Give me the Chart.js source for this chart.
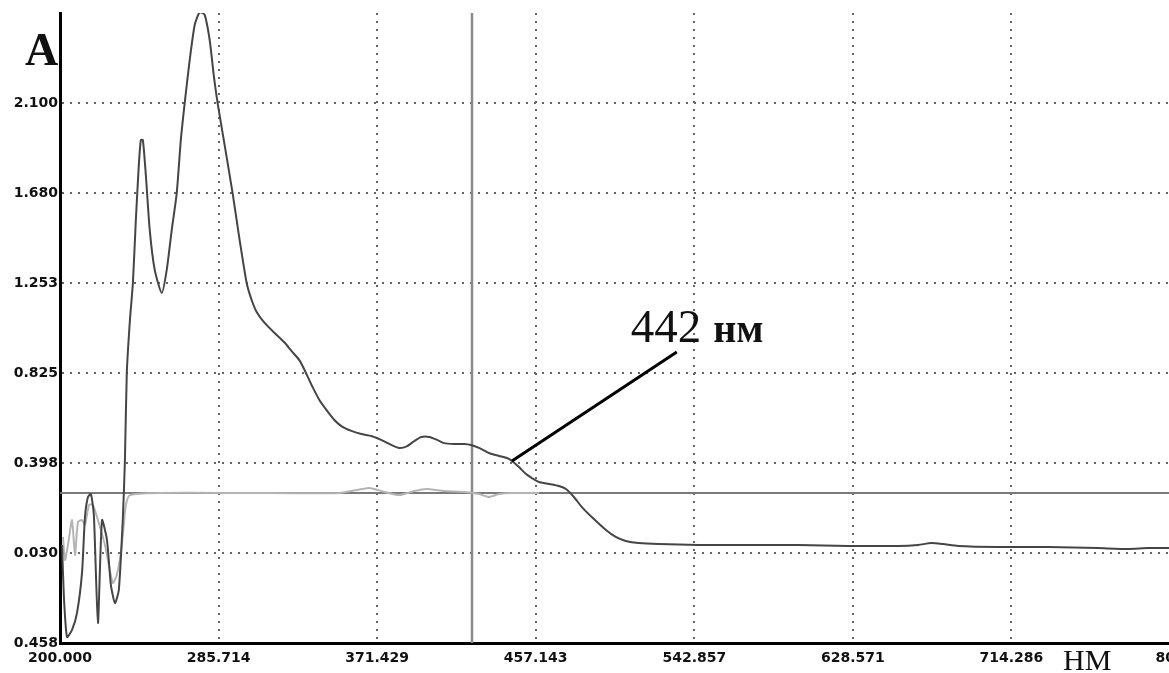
<!DOCTYPE html>
<html>
<head>
<meta charset="utf-8">
<title>Спектр поглощения</title>
<script src="https://cdn.jsdelivr.net/npm/chart.js@4/dist/chart.umd.min.js"></script>
<style>
  html, body { margin: 0; padding: 0; background: #fff; overflow: hidden; }
  #wrap { position: relative; width: 1180px; height: 673px; }
</style>
</head>
<body>
<div id="wrap"><canvas id="spectrum"></canvas></div>
<script>
// Sample spectrum, wavelength (nm) / absorbance
const waveMain = [201.1, 202.2, 203.8, 206.5, 209.2, 211.9, 213.5, 215.1, 216.7, 218.3, 220.5, 222.7, 225.4, 227.5,
  229.7, 231.8, 234.0, 235.1, 236.1, 237.8, 239.4, 241.0, 242.6, 243.7, 244.8, 246.4, 248.5, 251.2, 255.0, 257.7,
  260.4, 263.1, 265.3, 267.4, 270.1, 272.8, 275.5, 278.2, 280.9, 283.1, 285.2, 289.0, 293.3, 297.1, 300.9, 303.6,
  306.3, 310.6, 316.0, 321.4, 325.1, 329.5, 332.7, 336.5, 340.2, 344.0, 348.3, 352.7, 357.5, 362.9, 368.3, 372.6,
  378.0, 383.4, 387.7, 391.5, 395.3, 399.6, 403.9, 407.7, 413.1, 418.5, 422.2, 426.5, 431.9, 437.3, 441.6, 444.3,
  448.1, 451.9, 455.1, 458.9, 464.3, 469.7, 473.5, 477.8, 482.1, 488.6, 495.1, 500.4, 505.8, 512.8, 523.6, 545.2,
  572.2, 599.2, 626.1, 653.1, 663.9, 670.9, 677.4, 685.5, 707.0, 734.0, 761.0, 777.2, 788.0, 800.0];
const absMain = [0.008, -0.254, -0.430, -0.396, -0.315, -0.125, 0.141, 0.236, 0.250, 0.150, -0.363, 0.126, 0.031, -0.182,
  -0.268, -0.206, 0.141, 0.412, 0.825, 1.077, 1.253, 1.552, 1.813, 1.932, 1.932, 1.766, 1.505, 1.315, 1.205, 1.315,
  1.505, 1.680, 1.932, 2.108, 2.312, 2.479, 2.540, 2.527, 2.408, 2.241, 2.108, 1.908, 1.680, 1.457, 1.253, 1.172,
  1.115, 1.063, 1.015, 0.970, 0.930, 0.885, 0.830, 0.759, 0.697, 0.650, 0.602, 0.569, 0.550, 0.535, 0.526, 0.511,
  0.488, 0.469, 0.478, 0.502, 0.521, 0.521, 0.507, 0.492, 0.488, 0.488, 0.483, 0.469, 0.445, 0.431, 0.421, 0.407,
  0.378, 0.345, 0.326, 0.307, 0.298, 0.288, 0.274, 0.236, 0.188, 0.131, 0.079, 0.046, 0.027, 0.017, 0.012, 0.008,
  0.008, 0.008, 0.003, 0.003, 0.008, 0.017, 0.012, 0.003, -0.002, -0.002, -0.007, -0.011, -0.007, -0.007];

// Baseline (light grey) spectrum
const waveBase = [201.6, 202.7, 204.3, 206.5, 208.1, 209.7, 211.9, 213.5, 215.7, 217.8, 220.0, 222.1, 224.3, 226.4,
  228.6, 230.7, 232.9, 234.5, 235.6, 237.8, 253.9, 302.5, 351.0, 367.2, 375.3, 383.4, 391.5, 398.0, 407.7, 418.5,
  426.5, 431.9, 437.3, 444.3, 458.9];
const absBase = [0.046, -0.064, 0.008, 0.126, -0.040, 0.117, 0.126, 0.103, 0.198, 0.198, 0.141, 0.079, 0.008, -0.087,
  -0.173, -0.135, -0.030, 0.103, 0.198, 0.245, 0.255, 0.255, 0.255, 0.279, 0.260, 0.245, 0.264, 0.274, 0.264, 0.260,
  0.250, 0.236, 0.250, 0.255, 0.255];

// cursor lines
const cursorWave = 422.7;
const cursorAbs = 0.255;

// axes
const xMin = 200, xMax = 800;
const yMin = -0.458, yMax = 2.536;
const xTicks = [200, 285.714, 371.429, 457.143, 542.857, 628.571, 714.286, 800];
const xTickLabels = ['200.000', '285.714', '371.429', '457.143', '542.857', '628.571', '714.286', '800'];
const yTicks = [-0.458, -0.030, 0.398, 0.825, 1.253, 1.680, 2.108];
const yTickLabels = ['0.458', '0.030', '0.398', '0.825', '1.253', '1.680', '2.100'];
const yTitle = 'A';
const xTitle = 'НМ';

// callout "442 нм"
const calloutWave = [444.3, 533.4];
const calloutAbs = [0.407, 0.925];
const calloutNumber = '442';
const calloutUnit = 'нм';
const calloutTextAt = [508.5, 0.972];

const toPoints = (xs, ys) => xs.map((x, i) => ({ x: x, y: ys[i] }));

Chart.defaults.font.family = '"DejaVu Sans", sans-serif';

const textPlugin = {
    id: 'spectrumText',
    afterDraw(chart) {
        const ctx = chart.ctx;
        const xs = chart.scales.x, ys = chart.scales.y;
        ctx.save();
        ctx.fillStyle = '#111';
        ctx.textBaseline = 'alphabetic';
        ctx.textAlign = 'left';
        ctx.font = 'bold 46px "Liberation Serif"';
        ctx.fillText(yTitle, 25, 65);
        ctx.font = '30px "Liberation Serif"';
        ctx.fillText(xTitle, 1063, 670);
        // callout text sits at a data position
        const px = xs.getPixelForValue(calloutTextAt[0]);
        const py = ys.getPixelForValue(calloutTextAt[1]);
        ctx.font = '47px "Liberation Serif"';
        ctx.fillText(calloutNumber, px, py);
        const w = ctx.measureText(calloutNumber).width;
        ctx.font = 'bold 40px "Liberation Serif"';
        ctx.fillText(calloutUnit, px + w + 12, py);
        ctx.restore();
    }
};

const ctx = document.getElementById('spectrum').getContext('2d');
const chart = new Chart(ctx, {
    type: 'line',
    data: {
        datasets: [
            {
                label: 'sample',
                data: toPoints(waveMain, absMain),
                borderColor: '#454545',
                borderWidth: 2,
                pointRadius: 0,
                tension: 0.2,
                order: 0
            },
            {
                label: 'baseline',
                data: toPoints(waveBase, absBase),
                borderColor: '#b4b4b4',
                borderWidth: 2,
                pointRadius: 0,
                tension: 0.2,
                order: 1
            },
            {
                label: 'cursor-h',
                data: toPoints([xMin, xMax], [cursorAbs, cursorAbs]),
                borderColor: '#7a7a7a',
                borderWidth: 2,
                pointRadius: 0,
                order: 2
            },
            {
                label: 'cursor-v',
                data: toPoints([cursorWave, cursorWave], [yMin, yMax]),
                borderColor: '#8a8a8a',
                borderWidth: 2.5,
                pointRadius: 0,
                order: 2
            },
            {
                label: 'callout',
                data: toPoints(calloutWave, calloutAbs),
                borderColor: '#000',
                borderWidth: 3,
                pointRadius: 0,
                order: -1
            }
        ]
    },
    options: {
        responsive: true,
        maintainAspectRatio: false,
        animation: false,
        layout: {
            padding: { top: 13, right: 10, bottom: 0, left: 0 }
        },
        plugins: {
            legend: { display: false },
            tooltip: { enabled: false }
        },
        scales: {
            x: {
                type: 'linear',
                min: xMin,
                max: xMax,
                afterBuildTicks: (scale) => { scale.ticks = xTicks.map(v => ({ value: v })); },
                afterFit: (scale) => {
                    scale.height = 30;
                    scale.paddingLeft = 0;
                    scale.paddingRight = 0;
                },
                ticks: {
                    autoSkip: false,
                    maxRotation: 0,
                    padding: 7,
                    color: '#111',
                    font: { size: 14, weight: 'bold' },
                    callback: (v, i) => xTickLabels[i]
                },
                grid: {
                    color: '#666',
                    lineWidth: 2,
                    drawTicks: false
                },
                border: { color: '#000', width: 3, dash: [2, 6] }
            },
            y: {
                type: 'linear',
                min: yMin,
                max: yMax,
                afterBuildTicks: (scale) => { scale.ticks = yTicks.map(v => ({ value: v })); },
                afterFit: (scale) => {
                    scale.width = 60;
                    scale.paddingTop = 0;
                    scale.paddingBottom = 0;
                },
                ticks: {
                    autoSkip: false,
                    padding: 2,
                    color: '#111',
                    font: { size: 14, weight: 'bold' },
                    callback: (v, i) => yTickLabels[i]
                },
                grid: {
                    color: '#666',
                    lineWidth: 2,
                    drawTicks: false
                },
                border: { color: '#000', width: 3, dash: [2, 6] }
            }
        }
    },
    plugins: [textPlugin]
});
</script>
</body>
</html>
